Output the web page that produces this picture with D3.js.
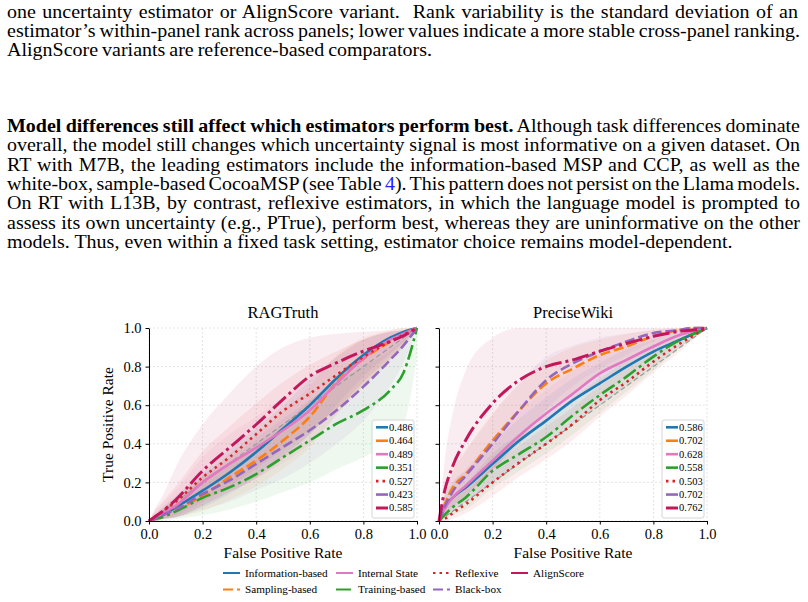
<!DOCTYPE html>
<html>
<head>
<meta charset="utf-8">
<script src="https://cdn.jsdelivr.net/npm/d3@7"></script>
<style>
  body { margin: 0; background: #fff; }
  svg { display: block; }
</style>
</head>
<body>
<script>
// ---- page text ----
const para1 = [
  "one uncertainty estimator or AlignScore variant.  Rank variability is the standard deviation of an",
  "estimator\u2019s within-panel rank across panels; lower values indicate a more stable cross-panel ranking.",
  "AlignScore variants are reference-based comparators."
];
const para2Bold = "Model differences still affect which estimators perform best.";
const para2 = [
  " Although task differences dominate",
  "overall, the model still changes which uncertainty signal is most informative on a given dataset. On",
  "RT with M7B, the leading estimators include the information-based MSP and CCP, as well as the",
  "white-box, sample-based CocoaMSP (see Table 4). This pattern does not persist on the Llama models.",
  "On RT with L13B, by contrast, reflexive estimators, in which the language model is prompted to",
  "assess its own uncertainty (e.g., PTrue), perform best, whereas they are uninformative on the other",
  "models. Thus, even within a fixed task setting, estimator choice remains model-dependent."
];

// ---- chart data ----
const groups = ["Information-based", "Sampling-based", "Internal State", "Training-based",
                "Reflexive", "Black-box", "AlignScore"];
const fpr = [0, 0.02, 0.05, 0.1, 0.2, 0.3, 0.4, 0.5, 0.6, 0.7, 0.8, 0.9, 0.95, 1];

const ragAuc = ["0.486", "0.464", "0.489", "0.351", "0.527", "0.423", "0.585"];
const ragTpr = [
  [0, .01, .03, .07, .157, .25, .357, .478, .60, .74, .86, .95, .98, 1],
  [0, .01, .03, .06, .13, .226, .313, .417, .54, .72, .84, .93, .97, 1],
  [0, .01, .04, .08, .20, .296, .38, .47, .574, .713, .843, .94, .97, 1],
  [0, .01, .02, .05, .12, .174, .243, .33, .417, .504, .574, .678, .77, 1],
  [0, .02, .05, .10, .226, .33, .45, .57, .66, .757, .85, .93, .965, 1],
  [0, .01, .03, .06, .14, .21, .296, .383, .47, .574, .696, .835, .91, 1],
  [0, .02, .05, .11, .26, .38, .50, .63, .75, .82, .88, .93, .96, 1]
];
const ragLo = [
  [0, 0, .01, .02, .07, .14, .23, .34, .45, .60, .75, .87, .93, 1],
  [0, 0, .01, .02, .05, .11, .18, .27, .38, .55, .70, .85, .92, 1],
  [0, 0, .01, .02, .08, .15, .22, .30, .40, .55, .72, .86, .93, 1],
  [0, 0, 0, .01, .03, .06, .10, .15, .20, .27, .33, .42, .50, .85],
  [0, 0, .01, .03, .10, .18, .27, .37, .47, .58, .70, .83, .91, 1],
  [0, 0, .01, .02, .06, .10, .16, .22, .30, .40, .52, .70, .82, 1],
  [0, 0, .01, .02, .08, .15, .22, .32, .45, .58, .72, .84, .90, 1]
];
const ragHi = [
  [0, .03, .07, .13, .25, .37, .48, .60, .73, .85, .94, .98, .99, 1],
  [0, .03, .07, .12, .23, .35, .45, .57, .70, .86, .95, .99, 1, 1],
  [0, .04, .09, .16, .33, .45, .54, .64, .74, .85, .94, .98, .99, 1],
  [0, .02, .05, .10, .22, .30, .40, .50, .62, .72, .80, .88, .94, 1],
  [0, .05, .10, .18, .36, .49, .61, .72, .81, .88, .94, .98, .99, 1],
  [0, .03, .06, .12, .24, .33, .43, .53, .63, .73, .84, .94, .97, 1],
  [0, .06, .13, .28, .50, .66, .80, .90, .95, .97, .98, .99, 1, 1]
];

const wikiAuc = ["0.586", "0.702", "0.628", "0.558", "0.503", "0.702", "0.762"];
const wikiTpr = [
  [0, .07, .12, .174, .296, .417, .52, .626, .713, .80, .878, .939, .97, 1],
  [0, .08, .17, .243, .417, .574, .713, .79, .86, .904, .957, .99, 1, 1],
  [0, .06, .12, .183, .313, .443, .557, .66, .765, .835, .904, .965, .985, 1],
  [0, .03, .07, .122, .26, .348, .435, .548, .652, .748, .852, .939, .97, 1],
  [0, .01, .04, .087, .20, .304, .40, .504, .626, .72, .826, .92, .96, 1],
  [0, .07, .15, .235, .40, .574, .73, .817, .878, .93, .974, .99, 1, 1],
  [0, .15, .28, .42, .61, .73, .80, .835, .88, .92, .957, .983, .99, 1]
];
const wikiLo = [
  [0, .02, .05, .10, .20, .30, .40, .50, .60, .70, .80, .90, .95, 1],
  [0, .03, .08, .13, .27, .42, .57, .67, .76, .83, .91, .97, .99, 1],
  [0, .02, .06, .10, .20, .32, .43, .54, .65, .75, .84, .93, .97, 1],
  [0, .01, .03, .06, .17, .26, .35, .45, .56, .67, .78, .90, .95, 1],
  [0, 0, .01, .04, .13, .23, .32, .42, .54, .65, .77, .88, .94, 1],
  [0, .03, .07, .13, .26, .42, .58, .70, .79, .86, .93, .98, .99, 1],
  [0, .03, .08, .14, .27, .40, .52, .62, .72, .80, .88, .94, .97, 1]
];
const wikiHi = [
  [0, .12, .20, .26, .40, .53, .64, .74, .82, .89, .94, .98, .99, 1],
  [0, .14, .27, .37, .56, .71, .83, .90, .94, .97, .99, 1, 1, 1],
  [0, .10, .19, .27, .43, .57, .68, .78, .86, .92, .96, .99, 1, 1],
  [0, .06, .12, .19, .35, .45, .53, .64, .74, .83, .91, .97, .99, 1],
  [0, .03, .08, .14, .28, .39, .49, .59, .70, .79, .88, .95, .98, 1],
  [0, .13, .25, .36, .55, .72, .85, .91, .95, .97, .99, 1, 1, 1],
  [0, .30, .55, .78, .95, 1, 1, 1, 1, 1, 1, 1, 1, 1]
];

const ticks = [0, 0.2, 0.4, 0.6, 0.8, 1.0];

// ---- styles ----
const colors = ["#1f77b4", "#ff7f0e", "#e377c2", "#2ca02c", "#d62728", "#9467bd", "#c2185b"];
const dashes = [null, "10,4", null, "15,4,3,4", "2.5,4", "10,4", "17,4,3,4"];
const widths = [2.6, 2.6, 2.6, 2.6, 2.6, 2.6, 3];
const serif = "'Liberation Serif', 'Times New Roman', Times, serif";

const svg = d3.select("body").append("svg")
    .attr("width", 808)
    .attr("height", 602);

// ---- page text, justified ----
const textG = svg.append("g")
    .attr("font-family", serif)
    .attr("font-size", 19)
    .attr("fill", "#000");

function drawLine(y, pieces) {
  const t = textG.append("text").attr("x", left).attr("y", y).attr("xml:space", "preserve");
  pieces.forEach(p => t.append("tspan").attr("font-weight", p[1] ? "bold" : null).text(p[0]));
  return t;
}

const left = 7;
const lastLine = drawLine(248.3, [[para2[6], false]]);
const sx = (733 - left) / lastLine.node().getComputedTextLength();
textG.attr("transform", `translate(${left * (1 - sx)},0) scale(${sx},1)`);

function justify(t, endX) {
  const w = t.node().getComputedTextLength();
  const n = (t.text().match(/ /g) || []).length;
  const target = (endX - left) / sx;
  if (n > 0) t.attr("word-spacing", (target - w) / n);
}

const p1y = [18.3, 36.9, 56];
const p1end = [798, 800, 432];
para1.forEach((s, i) => justify(drawLine(p1y[i], [[s, false]]), p1end[i]));

const p2y = [131.7, 151.2, 170.6, 190, 209.5, 229];
p2y.forEach((y, i) => {
  const pieces = i === 0 ? [[para2Bold, true], [para2[0], false]] : [[para2[i], false]];
  justify(drawLine(y, pieces), 800);
});
// blue reference number
textG.selectAll("text").filter(function () { return d3.select(this).text().includes("Table 4"); })
  .each(function () {
    const t = d3.select(this);
    const s = t.text();
    const k = s.indexOf("Table 4") + 6;
    t.selectAll("tspan").remove();
    t.append("tspan").text(s.slice(0, k));
    t.append("tspan").attr("fill", "#2020ff").text(s.slice(k, k + 1));
    t.append("tspan").text(s.slice(k + 1));
  });

// ---- panels ----
const panels = [
  { title: "RAGTruth", x0: 149, tpr: ragTpr, lo: ragLo, hi: ragHi, auc: ragAuc, yLabels: true },
  { title: "PreciseWiki", x0: 439, tpr: wikiTpr, lo: wikiLo, hi: wikiHi, auc: wikiAuc, yLabels: false }
];
const pw = 268, yTop = 328, yBot = 521;

panels.forEach(p => {
  const x = d3.scaleLinear().domain([0, 1]).range([p.x0, p.x0 + pw]);
  const y = d3.scaleLinear().domain([0, 1]).range([yBot, yTop]);
  const g = svg.append("g");

  // grid
  g.append("g").selectAll("line").data(ticks).join("line")
    .attr("x1", d => x(d)).attr("x2", d => x(d)).attr("y1", yTop).attr("y2", yBot)
    .attr("stroke", "#d8d8d8").attr("stroke-width", 0.7).attr("stroke-dasharray", "2,2");
  g.append("g").selectAll("line").data(ticks).join("line")
    .attr("x1", p.x0).attr("x2", p.x0 + pw).attr("y1", d => y(d)).attr("y2", d => y(d))
    .attr("stroke", "#d8d8d8").attr("stroke-width", 0.7).attr("stroke-dasharray", "2,2");

  // confidence bands
  const area = d3.area()
    .x((d, i) => x(fpr[i]))
    .y0(d => y(d[0]))
    .y1(d => y(d[1]))
    .curve(d3.curveMonotoneX);
  groups.forEach((name, k) => {
    g.append("path")
      .datum(p.lo[k].map((v, i) => [v, p.hi[k][i]]))
      .attr("d", area)
      .attr("fill", colors[k])
      .attr("fill-opacity", 0.08);
  });

  // chance diagonal
  g.append("line")
    .attr("x1", x(0)).attr("y1", y(0)).attr("x2", x(1)).attr("y2", y(1))
    .attr("stroke", "#9a9a9a").attr("stroke-width", 1.2).attr("stroke-dasharray", "5,3");

  // ROC curves
  const line = d3.line()
    .x((d, i) => x(fpr[i]))
    .y(d => y(d))
    .curve(d3.curveMonotoneX);
  groups.forEach((name, k) => {
    g.append("path")
      .datum(p.tpr[k])
      .attr("d", line)
      .attr("fill", "none")
      .attr("stroke", colors[k])
      .attr("stroke-width", widths[k])
      .attr("stroke-dasharray", dashes[k]);
  });

  // axes
  const ax = g.append("g").attr("transform", `translate(0,${yBot})`)
    .call(d3.axisBottom(x).tickValues(ticks).tickFormat(d3.format(".1f"))
      .tickSize(3.5).tickSizeOuter(0).tickPadding(4));
  const ay = g.append("g").attr("transform", `translate(${p.x0},0)`)
    .call(d3.axisLeft(y).tickValues(ticks).tickFormat(p.yLabels ? d3.format(".1f") : () => "")
      .tickSize(3.5).tickSizeOuter(0).tickPadding(4));
  [ax, ay].forEach(a => {
    a.attr("font-family", serif).attr("font-size", 14.5);
    a.selectAll("path, line").attr("stroke", "#000").attr("stroke-width", 1);
  });

  // title and x label
  g.append("text").attr("x", p.x0 + pw / 2).attr("y", 318)
    .attr("text-anchor", "middle").attr("font-family", serif).attr("font-size", 16.5)
    .text(p.title);
  g.append("text").attr("x", p.x0 + pw / 2).attr("y", 558)
    .attr("text-anchor", "middle").attr("font-family", serif).attr("font-size", 15.5)
    .text("False Positive Rate");

  // AUC legend
  const lx = p.x0 + pw - 45;
  const lg = g.append("g");
  lg.append("rect")
    .attr("x", lx).attr("y", 420).attr("width", 42).attr("height", 98)
    .attr("rx", 2).attr("fill", "#fff").attr("fill-opacity", 0.85)
    .attr("stroke", "#cccccc").attr("stroke-width", 0.8);
  groups.forEach((name, k) => {
    const ly = 427.3 + k * 13.45;
    lg.append("line")
      .attr("x1", lx + 4).attr("x2", lx + 16).attr("y1", ly).attr("y2", ly)
      .attr("stroke", colors[k]).attr("stroke-width", widths[k])
      .attr("stroke-dasharray", k === 4 ? "2.5,4" : null);
    lg.append("text")
      .attr("x", lx + 17).attr("y", ly).attr("dy", "0.33em")
      .attr("font-family", serif).attr("font-size", 10.5)
      .text(p.auc[k]);
  });
});

// y label
svg.append("text")
  .attr("transform", "translate(113,424.5) rotate(-90)")
  .attr("text-anchor", "middle").attr("font-family", serif).attr("font-size", 15.5)
  .text("True Positive Rate");

// ---- bottom legend ----
const legCols = [223, 336, 433, 511];
const legOrder = [[0, 1], [2, 3], [4, 5], [6]];
legOrder.forEach((col, c) => {
  col.forEach((k, r) => {
    const ly = 573 + r * 16.5;
    svg.append("line")
      .attr("x1", legCols[c]).attr("x2", legCols[c] + 17).attr("y1", ly).attr("y2", ly)
      .attr("stroke", colors[k]).attr("stroke-width", 2)
      .attr("stroke-dasharray", dashes[k]);
    svg.append("text")
      .attr("x", legCols[c] + 22).attr("y", ly).attr("dy", "0.33em")
      .attr("font-family", serif).attr("font-size", 11.2)
      .text(groups[k]);
  });
});
</script>
</body>
</html>
